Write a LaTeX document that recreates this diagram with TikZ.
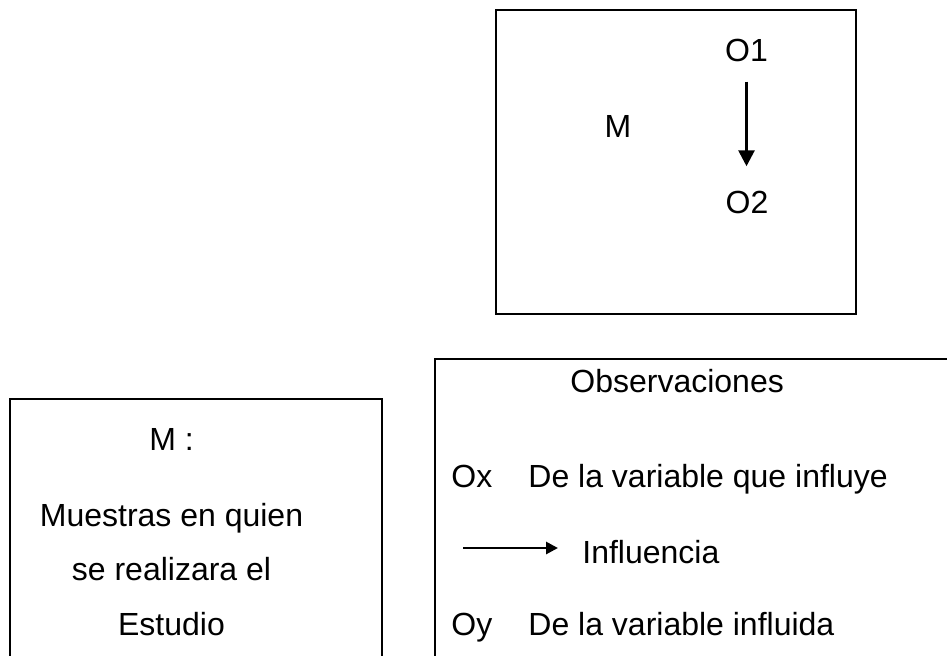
\documentclass[tikz,border=0pt]{standalone}
\usepackage{fontspec}
\setmainfont{Liberation Sans}
\usepackage{tikz}
\usetikzlibrary{arrows.meta}
\tikzstyle{caja} = [line width=1.3pt]
\tikzstyle{texto} = [inner sep=0pt,anchor=base,font=\fontsize{16}{19}\selectfont]
\tikzstyle{izq} = [texto,anchor=base west]
\tikzstyle{flecha} = [line width=1.4pt,-{Triangle[width=8pt,length=8pt]}]

\begin{document}
\begin{tikzpicture}[x=0.5pt,y=-0.5pt]
    \useasboundingbox (0,0) rectangle (947,655);
    \clip (0,0) rectangle (947,655);
    % diagrama
    \draw[caja] (496,10) rectangle (856,314);
    \node[texto] (m) at (618,137) {M};
    \node[texto] (o1) at (746.5,61) {O1};
    \node[texto] (o2) at (747,213) {O2};
    \draw[flecha,shorten <=10pt,shorten >=12pt] (o1.south) -- (o1.south|-o2.north);
    % muestra
    \draw[caja] (10,670) -- (10,399) -- (382,399) -- (382,670);
    \node[texto] (mm) at (171.5,450) {M :};
    \node[texto] (mu1) at (171.5,526) {Muestras en quien};
    \node[texto] (mu2) at (171.5,580) {se realizara el};
    \node[texto] (mu3) at (171.5,635) {Estudio};
    % observaciones
    \draw[caja] (435,670) -- (435,359) -- (960,359);
    \node[izq] (obs) at (570,392) {Observaciones};
    \node[izq] (ox) at (451,487) {Ox};
    \node[izq] (oxd) at (528,487) {De la variable que influye};
    \coordinate (li) at (463,548);
    \coordinate (lf) at (558,548);
    \draw[line width=1.4pt,-{Triangle[width=6pt,length=6pt]}] (li) -- (lf);
    \node[izq] (inf) at (582,563) {Influencia};
    \node[izq] (oy) at (451,635) {Oy};
    \node[izq] (oyd) at (528,635) {De la variable influida};
\end{tikzpicture}
\end{document}
